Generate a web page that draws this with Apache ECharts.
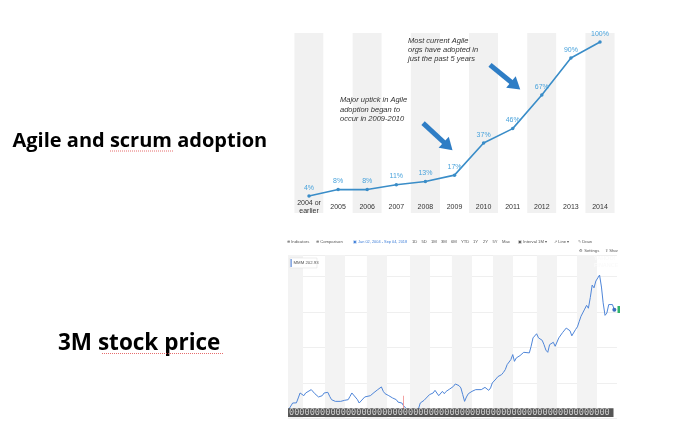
<!DOCTYPE html>
<html>
<head>
<meta charset="utf-8">
<script src="https://cdn.jsdelivr.net/npm/echarts@6/dist/echarts.min.js"></script>
<style>
    html, body {margin: 0; padding: 0; background: #fff;}
    #charts {width: 680px; height: 427px;}
</style>
</head>
<body>
<div id="charts"></div>
<script>
// agile chart
var years = ['2004 or\nearlier', '2005', '2006', '2007', '2008', '2009', '2010', '2011', '2012', '2013', '2014'];
var adoption = [4, 8, 8, 11, 13, 17, 37, 46, 67, 90, 100];

// 3M monthly line
var stockDates = [
    '2004-01', '2004-03', '2004-05', '2004-06', '2004-07', '2004-09', '2004-10', '2004-11',
    '2005-01', '2005-03', '2005-04', '2005-05', '2005-07', '2005-08', '2005-10', '2005-11', '2005-12',
    '2006-02', '2006-03', '2006-05', '2006-06', '2006-07', '2006-09', '2006-10', '2006-11', '2006-12',
    '2007-02', '2007-03', '2007-04', '2007-06', '2007-07', '2007-09', '2007-11', '2007-12',
    '2008-01', '2008-03', '2008-04', '2008-05', '2008-07', '2008-08', '2008-09', '2008-11', '2008-12',
    '2009-02', '2009-03', '2009-04', '2009-05', '2009-07', '2009-09', '2009-11', '2009-12',
    '2010-02', '2010-03', '2010-05', '2010-07', '2010-08', '2010-10', '2010-11', '2010-12',
    '2011-01', '2011-02', '2011-04', '2011-06', '2011-07', '2011-09', '2011-10', '2011-11', '2011-12',
    '2012-01', '2012-02', '2012-04', '2012-06', '2012-07', '2012-09', '2012-10', '2012-11',
    '2013-01', '2013-02', '2013-03', '2013-05', '2013-06', '2013-08', '2013-09', '2013-10', '2013-11',
    '2014-01', '2014-02', '2014-03', '2014-04', '2014-06', '2014-08', '2014-09', '2014-11', '2014-12',
    '2015-01', '2015-03', '2015-04', '2015-06', '2015-07', '2015-08', '2015-09', '2015-10', '2015-12',
    '2016-01', '2016-02', '2016-03', '2016-05', '2016-07', '2016-08', '2016-09', '2016-10', '2016-12',
    '2017-01', '2017-02', '2017-03', '2017-05', '2017-06', '2017-07', '2017-08', '2017-09', '2017-10', '2017-11',
    '2018-01', '2018-02', '2018-03', '2018-04', '2018-05', '2018-06', '2018-07', '2018-08', '2018-09'
];
var stockPrices = [
    63.4, 71.8, 72.0, 78.9, 85.9, 82.1, 85.9, 84.9,
    90.6, 84.9, 83.5, 80.3, 82.1, 85.9, 86.8, 81.1, 76.5,
    74.1, 71.8, 74.1, 72.7, 75.5, 76.5, 81.1, 85.9, 83.5,
    76.5, 71.8, 74.1, 80.3, 77.9, 82.1, 86.5, 88.2,
    90.6, 94.4, 88.2, 84.9, 82.1, 81.1, 78.9, 76.5, 73.0,
    71.8, 68.0, 66.2, 62.4, 56.8, 58.2, 63.4, 71.8,
    75.5, 77.5, 83.5, 85.9, 89.6, 82.1, 84.9, 88.2,
    84.9, 88.2, 91.5, 95.2, 98.6, 96.2, 93.0, 83.5, 74.1,
    80.3, 84.9, 88.2, 90.6, 88.2, 90.6, 93.0, 93.8,
    89.6, 93.0, 100.0, 105.6, 108.9, 111.7, 114.9, 118.7, 125.8,
    132.8, 139.9, 130.4, 135.2, 138.5, 143.1, 144.5, 142.3, 151.6,
    163.4, 169.2, 163.4, 160.0, 153.9, 146.2, 143.1, 153.9, 157.2,
    151.6, 153.9, 163.4, 170.8, 177.2, 179.7, 173.4, 166.3, 175.1,
    178.9, 186.8, 193.8, 203.9, 209.2, 205.1, 220.1, 237.7, 233.8, 243.4,
    251.8, 234.9, 212.7, 195.1, 198.3, 210.3, 211.4, 210.3, 202.9
];
// shaded columns behind the stock line
var stockBands = [
    ['2003-12-15', '2004-08-18'], ['2005-08-15', '2006-07-10'], ['2007-07-06', '2008-06-01'],
    ['2009-06-15', '2010-05-10'], ['2011-05-06', '2012-04-01'], ['2013-03-12', '2014-02-06'],
    ['2015-03-06', '2016-02-01'], ['2016-12-25', '2017-11-20']
];
var lowMarkDate = '2009-02-26';
var lastQuote = 'MMM 202.93';

var dom = document.getElementById('charts');
var myChart = echarts.init(dom);
var smallFont = 'Liberation Sans';

function txt(text, x, y, size, color, extra) {
    var style = {
        text: text,
        font: (extra && extra.font) || (size + 'px ' + smallFont),
        fill: color,
        verticalAlign: 'middle'
    };
    if (extra && extra.lineHeight) style.lineHeight = extra.lineHeight;
    if (extra && extra.verticalAlign) style.verticalAlign = extra.verticalAlign;
    return {type: 'text', x: x, y: y, z: 100, silent: true, style: style};
}

var tb = 4.2; // toolbar font size
var graphics = [
    txt('Agile and scrum adoption', 12.5, 141, 20, '#000', {font: 'bold 20px "Open Sans"'}),
    txt('3M stock price', 58, 343.5, 22.5, '#000', {font: 'bold 22.5px "Open Sans"'}),
    {type: 'line', z: 100, silent: true, shape: {x1: 110, y1: 151, x2: 173, y2: 151},
        style: {stroke: '#e04848', lineWidth: 0.8, lineDash: [1, 1]}},
    {type: 'line', z: 100, silent: true, shape: {x1: 102, y1: 353.5, x2: 223, y2: 353.5},
        style: {stroke: '#e04848', lineWidth: 0.8, lineDash: [1, 1]}},

    txt('Most current Agile\norgs have adopted in\njust the past 5 years', 408, 36, 7.5, '#333',
        {font: 'italic 7.5px Liberation Sans', lineHeight: 9.3, verticalAlign: 'top'}),
    txt('Major uptick in Agile\nadoption began to\noccur in 2009-2010', 340, 95.5, 7.5, '#333',
        {font: 'italic 7.5px Liberation Sans', lineHeight: 9.3, verticalAlign: 'top'}),

    // yahoo toolbar
    txt('\u2295 Indicators', 287, 241.7, tb, '#555'),
    txt('\u2295 Comparison', 316, 241.7, tb, '#555'),
    txt('\u25A3 Jan 02, 2004 - Sep 04, 2018', 353, 241.7, 3.9, '#3f7fd9'),
    txt('1D', 412, 241.7, tb, '#555'),
    txt('5D', 421.5, 241.7, tb, '#555'),
    txt('1M', 431, 241.7, tb, '#555'),
    txt('3M', 441, 241.7, tb, '#555'),
    txt('6M', 451, 241.7, tb, '#555'),
    txt('YTD', 461, 241.7, tb, '#555'),
    txt('1Y', 473, 241.7, tb, '#555'),
    txt('2Y', 483, 241.7, tb, '#555'),
    txt('5Y', 492.5, 241.7, tb, '#555'),
    txt('Max', 502, 241.7, tb, '#555'),
    txt('\u25A3 Interval 1M \u25BE', 518, 241.7, tb, '#555'),
    txt('\u2197 Line \u25BE', 554, 241.7, tb, '#555'),
    txt('\u270E Draw', 578, 241.7, tb, '#555'),
    txt('\u2699 Settings', 579, 250.7, tb, '#555'),
    txt('\u21EA Shar', 605, 250.7, tb, '#555'),

    {type: 'rect', z: 100, silent: true, shape: {x: 290, y: 258, width: 27, height: 10},
        style: {fill: '#fff', stroke: '#e2e2e2', lineWidth: 0.6}},
    {type: 'rect', z: 101, silent: true, shape: {x: 290.6, y: 259, width: 1, height: 8},
        style: {fill: '#3d73d0'}},
    txt(lastQuote, 293.5, 263, 4.3, '#555'),
    txt('YAHOO!\nFINANCE', 594, 262, 5.5, '#fbfbfb', {lineHeight: 7, font: 'bold 5.5px Liberation Sans'}),

    // date strip at the bottom (glyphs did not render in the source either)
    {type: 'rect', z: 100, silent: true, shape: {x: 288, y: 408.3, width: 325.5, height: 8.6},
        style: {fill: '#555'}},
    txt(new Array(63).join('0'), 289, 412.7, 8.6, '#cfcfcf', {font: '8.6px DejaVu Sans Mono'}),
    {type: 'rect', z: 100, silent: true, shape: {x: 617.5, y: 306, width: 2.5, height: 7},
        style: {fill: '#2fb36b'}}
];

var stockData = stockDates.map(function (d, i) {
    return [d, stockPrices[i]];
});

var option = {
    animation: false,
    backgroundColor: '#fff',
    grid: [
        {left: 294.45, right: 65.45, top: 33, bottom: 214},
        {left: 288, right: 63, top: 255, bottom: 8.5}
    ],
    xAxis: [
        {
            type: 'category',
            gridIndex: 0,
            data: years,
            boundaryGap: true,
            axisLine: {show: false},
            axisTick: {show: false},
            axisLabel: {
                interval: 0,
                color: '#333',
                fontSize: 7,
                fontFamily: smallFont,
                lineHeight: 8,
                margin: -6,
                verticalAlign: 'middle'
            },
            splitArea: {show: true, areaStyle: {color: ['#f1f1f1', '#ffffff']}},
            splitLine: {show: false}
        },
        {
            type: 'time',
            gridIndex: 1,
            min: '2003-12-15',
            max: '2018-10-15',
            axisLine: {show: false},
            axisTick: {show: false},
            axisLabel: {show: false},
            splitLine: {show: false}
        },
        {type: 'value', gridIndex: 0, min: -0.5, max: 10.5, show: false}
    ],
    yAxis: [
        {type: 'value', gridIndex: 0, min: -6.6, max: 105.6, show: false},
        {
            type: 'value',
            gridIndex: 1,
            min: 50,
            max: 280,
            interval: 50,
            axisLine: {show: false},
            axisTick: {show: false},
            axisLabel: {show: false},
            splitLine: {show: true, lineStyle: {color: '#ebebeb', width: 0.8}}
        }
    ],
    graphic: graphics,
    series: [
        {
            name: 'adoption',
            type: 'line',
            xAxisIndex: 0,
            yAxisIndex: 0,
            data: adoption,
            symbol: 'circle',
            symbolSize: 3.5,
            itemStyle: {color: '#3a8dc8'},
            lineStyle: {color: '#3a8dc8', width: 1.6},
            label: {
                show: true,
                position: 'top',
                distance: 3,
                formatter: '{c}%',
                color: '#4aa3dc',
                fontSize: 7,
                fontFamily: smallFont
            },
            silent: true
        },
        {
            name: 'arrows',
            type: 'line',
            xAxisIndex: 2,
            yAxisIndex: 0,
            data: [],
            silent: true,
            markLine: {
                silent: true,
                symbol: ['none', 'triangle'],
                symbolSize: [15, 12],
                label: {show: false},
                lineStyle: {color: '#2e7dc5', width: 5, type: 'solid', opacity: 1},
                data: [
                    [{coord: [3.92, 49.4]}, {coord: [4.78, 35.0]}],
                    [{coord: [6.22, 85.7]}, {coord: [7.10, 72.7]}]
                ]
            }
        },
        {
            name: 'MMM',
            type: 'line',
            xAxisIndex: 1,
            yAxisIndex: 1,
            data: stockData,
            showSymbol: false,
            symbol: 'none',
            lineStyle: {color: '#4f86d9', width: 1},
            silent: true,
            markArea: {
                silent: true,
                itemStyle: {color: '#f3f3f3'},
                data: stockBands.map(function (b) {
                    return [{xAxis: b[0]}, {xAxis: b[1]}];
                })
            },
            markLine: {
                silent: true,
                symbol: ['none', 'none'],
                label: {show: false},
                lineStyle: {color: '#f08a8a', width: 0.8, type: 'solid'},
                data: [[{coord: [lowMarkDate, 58]}, {coord: [lowMarkDate, 82]}]]
            },
            markPoint: {
                silent: true,
                symbol: 'circle',
                symbolSize: 4,
                label: {show: false},
                itemStyle: {color: '#3d6fc0'},
                data: [{coord: stockData[stockData.length - 1]}]
            }
        }
    ]
};
myChart.setOption(option, true);
</script>
</body>
</html>
